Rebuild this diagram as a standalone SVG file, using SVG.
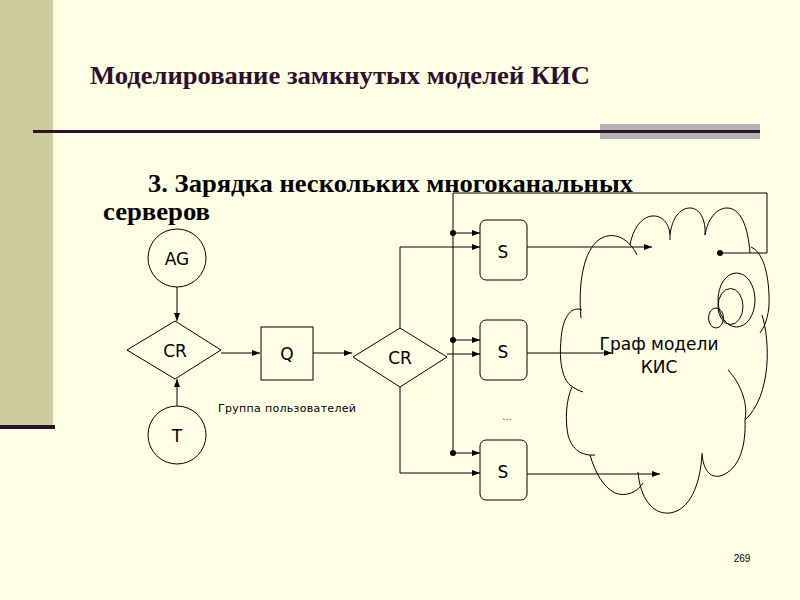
<svg xmlns="http://www.w3.org/2000/svg" width="800" height="600" viewBox="0 0 800 600">
<style>
.ln{fill:none;stroke:#000;stroke-width:1}
.shape{fill:none;stroke:#000;stroke-width:1}
.lbl{font-family:"DejaVu Sans","Liberation Sans",Arial,sans-serif;font-size:17px;fill:#000;text-anchor:middle}
.ttl{font-family:"Liberation Serif","Times New Roman",serif;font-weight:bold;font-size:26px}
.cloud{fill:none;stroke:#000;stroke-width:1}
</style>
<defs>
<marker id="arr" viewBox="0 0 8 6" refX="8" refY="3" markerWidth="8" markerHeight="6" markerUnits="userSpaceOnUse" orient="auto">
<path d="M0,0 L8,3 L0,6 Z" fill="#000"/>
</marker>
</defs>
<rect x="0" y="0" width="800" height="600" fill="#FFFFE6"/>
<rect x="0" y="0" width="53" height="425" fill="#CCCC9C"/>
<rect x="0" y="425" width="55" height="4" fill="#2E0F2E"/>
<rect x="600" y="124" width="160" height="15" fill="#B2B2B2"/>
<rect x="33" y="130" width="727" height="3" fill="#2E0F2E"/>
<text class="ttl" x="90" y="84" fill="#2E0F2E" textLength="500" lengthAdjust="spacingAndGlyphs">Моделирование замкнутых моделей КИС</text>
<text class="ttl" x="148" y="192" fill="#000" textLength="485" lengthAdjust="spacingAndGlyphs">3. Зарядка нескольких многоканальных</text>
<text class="ttl" x="103" y="220" fill="#000" textLength="107" lengthAdjust="spacingAndGlyphs">серверов</text>

<g id="connectors">
<line class="ln" x1="177" y1="287" x2="177" y2="321" marker-end="url(#arr)"/>
<line class="ln" x1="177" y1="406" x2="177" y2="379" marker-end="url(#arr)"/>
<line class="ln" x1="221" y1="353" x2="260" y2="353" marker-end="url(#arr)"/>
<line class="ln" x1="313" y1="353" x2="352" y2="353" marker-end="url(#arr)"/>
<polyline class="ln" points="400,328 400,247 480,247" marker-end="url(#arr)"/>
<line class="ln" x1="447" y1="354" x2="480" y2="354" marker-end="url(#arr)"/>
<polyline class="ln" points="400,387 400,473 480,473" marker-end="url(#arr)"/>
<polyline class="ln" points="720,253 767,253 767,193 453,193 453,453"/>
<line class="ln" x1="453" y1="233" x2="480" y2="233" marker-end="url(#arr)"/>
<line class="ln" x1="453" y1="340" x2="480" y2="340" marker-end="url(#arr)"/>
<line class="ln" x1="453" y1="453" x2="480" y2="453" marker-end="url(#arr)"/>
<circle cx="453" cy="233" r="3" fill="#000"/>
<circle cx="453" cy="340" r="3" fill="#000"/>
<circle cx="453" cy="453" r="3" fill="#000"/>
<circle cx="720" cy="253" r="3" fill="#000"/>
<line class="ln" x1="527" y1="247" x2="652" y2="247" marker-end="url(#arr)"/>
<line class="ln" x1="527" y1="353" x2="612" y2="353" marker-end="url(#arr)"/>
<line class="ln" x1="527" y1="474" x2="660" y2="474" marker-end="url(#arr)"/>
</g>

<g id="AG"><circle class="shape" cx="177" cy="258" r="29"/><text class="lbl" x="177" y="265">AG</text></g>
<g id="CR1"><polygon class="shape" points="127,350 175,321 221,350 175,379"/><text class="lbl" x="175" y="357">CR</text></g>
<g id="T"><circle class="shape" cx="177" cy="435" r="29"/><text class="lbl" x="177" y="442">T</text></g>
<g id="Q"><rect class="shape" x="261" y="327" width="52" height="53"/><text class="lbl" x="287" y="360">Q</text></g>
<g id="group-label"><text x="218" y="412" font-family="'DejaVu Sans','Liberation Sans',Arial,sans-serif" font-size="11" fill="#000" textLength="138" lengthAdjust="spacing">Группа пользователей</text></g>
<g id="CR2"><polygon class="shape" points="353,357 400,328 447,357 400,387"/><text class="lbl" x="400" y="364">CR</text></g>
<g id="S1"><rect class="shape" x="480" y="220" width="47" height="60" rx="6"/><text class="lbl" x="503" y="258">S</text></g>
<g id="S2"><rect class="shape" x="480" y="320" width="47" height="60" rx="6"/><text class="lbl" x="503" y="358">S</text></g>
<g id="S3"><rect class="shape" x="480" y="440" width="47" height="60" rx="6"/><text class="lbl" x="503" y="478">S</text></g>
<g id="dots"><text x="507" y="420" font-family="'DejaVu Sans',sans-serif" font-size="10" fill="#555" text-anchor="middle">...</text></g>

<g id="cloud">
<path class="cloud" d="M581,318 C578,285 583,250 600,239 C615,230 630,240 637,255"/>
<path class="cloud" d="M630,245 C633,228 642,217 652,216 C663,215 671,225 670,240"/>
<path class="cloud" d="M670,235 C672,218 680,208 690,208 C700,208 706,220 705,235"/>
<path class="cloud" d="M705,235 C708,218 717,208 727,208 C740,208 748,225 750,253"/>
<path class="cloud" d="M751,247 C762,252 768,270 769,295 C770,312 766,325 760,333"/>
<path class="cloud" d="M762,315 C770,340 772,395 745,420"/>
<path class="cloud" d="M728,370 C742,385 748,405 745,420 C746,445 740,470 720,476 C710,478 703,470 702,453"/>
<path class="cloud" d="M702,455 C700,485 690,510 670,513 C652,515 640,497 638,472"/>
<path class="cloud" d="M643,483 C637,493 625,497 615,493 C603,487 595,472 590,455"/>
<path class="cloud" d="M572,387 C566,400 565,420 568,435 C572,450 582,456 595,455"/>
<path class="cloud" d="M582,310 C570,305 562,320 561,340 C559,360 562,378 570,385 C575,389 580,391 583,392"/>
<ellipse class="cloud" cx="736.5" cy="300" rx="18.5" ry="27"/>
<ellipse class="cloud" cx="730.5" cy="306.5" rx="12.5" ry="18"/>
<ellipse class="cloud" cx="716" cy="318" rx="7.5" ry="10"/>
<text class="lbl" x="659" y="350" font-size="18">Граф модели</text>
<text class="lbl" x="659" y="373" font-size="18">КИС</text>
</g>
<text x="742" y="562" font-family="'Liberation Sans',Arial,sans-serif" font-size="10" fill="#000" text-anchor="middle">269</text>
</svg>
